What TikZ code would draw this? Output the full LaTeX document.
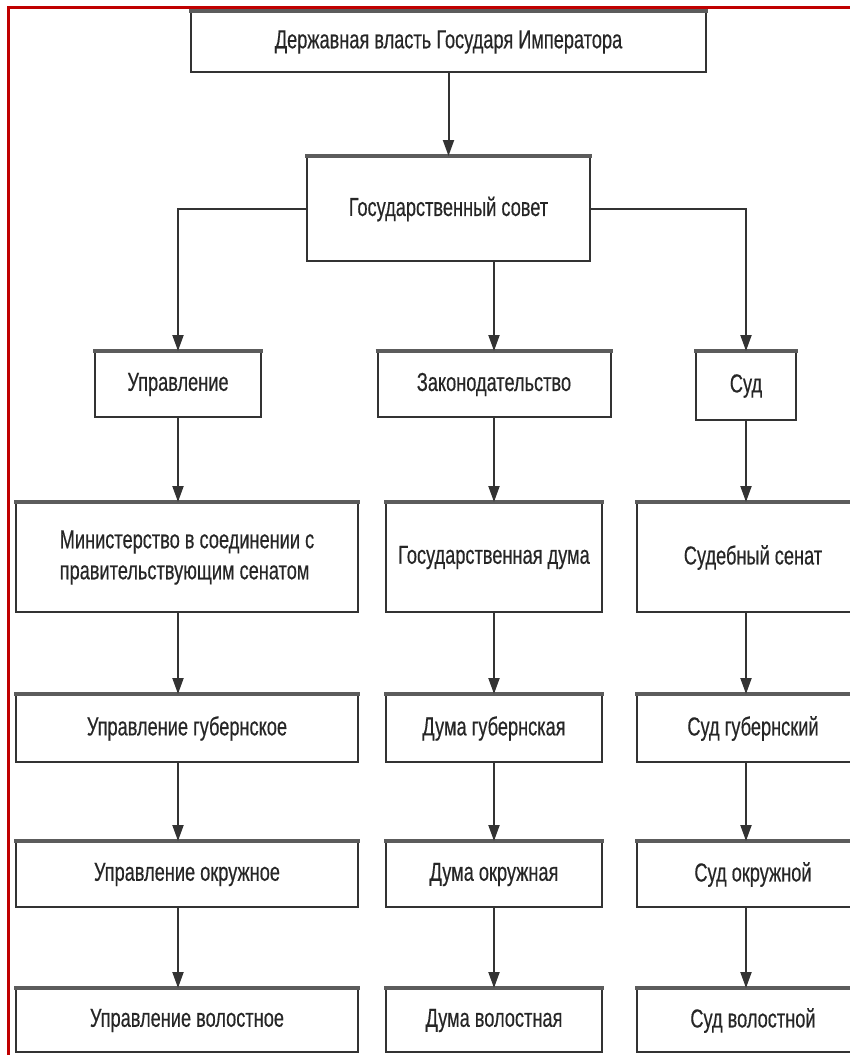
\documentclass[tikz,border=0pt]{standalone}
\usepackage{fontspec}
\setmainfont[FakeStretch=0.7, FakeBold=0.4]{Liberation Sans}
\usetikzlibrary{arrows.meta}
\definecolor{frame}{HTML}{C00000}
\definecolor{ink}{HTML}{333333}
\tikzset{
  box/.style={draw=ink, line width=2pt, fill=white, text=black!85,
    font=\fontsize{26}{31}\selectfont, inner sep=0pt, align=center,
    append after command={(\tikzlastnode.north west) edge[draw=ink!80, line width=4pt, shorten <=-1pt, shorten >=-1pt] (\tikzlastnode.north east)}},
  arr/.style={draw=ink, line width=2pt, -{Triangle[length=16pt,width=11pt]}}
}
\begin{document}
\begin{tikzpicture}[x=1pt, y=-1pt]

\clip (0,0) rectangle (850,1055);
\fill[white] (0,0) rectangle (850,1055);

\draw [frame, line width=3pt] (8,1055) -- (8,7) -- (850,7);

\node[box, minimum width=515, minimum height=60] (emperor) at (448.5,42) {Державная власть Государя Императора};
\node[box, minimum width=283, minimum height=104] (sovet) at (448.5,209) {Государственный совет};

\node[box, minimum width=166, minimum height=65] (upr) at (178,384.5) {Управление};
\node[box, minimum width=233, minimum height=65] (zak) at (494,384.5) {Законодательство};
\node[box, minimum width=100, minimum height=68] (sud) at (746,386) {Суд};

\node[box, minimum width=342, minimum height=109, align=left] (min) at (187,557.5) {Министерство в соединении с\\правительствующим сенатом};
\node[box, minimum width=216, minimum height=109] (duma) at (494,557.5) {Государственная дума};
\node[box, minimum width=232, minimum height=109] (senat) at (753,557.5) {Судебный сенат};

\node[box, minimum width=342, minimum height=67] (uprgub) at (187,728.5) {Управление губернское};
\node[box, minimum width=216, minimum height=67] (dumagub) at (494,728.5) {Дума губернская};
\node[box, minimum width=232, minimum height=67] (sudgub) at (753,728.5) {Суд губернский};

\node[box, minimum width=342, minimum height=65] (uprokr) at (187,874.5) {Управление окружное};
\node[box, minimum width=216, minimum height=65] (dumaokr) at (494,874.5) {Дума окружная};
\node[box, minimum width=232, minimum height=65] (sudokr) at (753,874.5) {Суд окружной};

\node[box, minimum width=342, minimum height=63] (uprvol) at (187,1020.5) {Управление волостное};
\node[box, minimum width=216, minimum height=63] (dumavol) at (494,1020.5) {Дума волостная};
\node[box, minimum width=232, minimum height=63] (sudvol) at (753,1020.5) {Суд волостной};

\draw[arr] (emperor.south) -- (sovet.north);
\draw[arr] (sovet.west) -| (upr.north);
\draw[arr] (sovet.east) -| (sud.north);
\draw[arr] (zak.north |- sovet.south) -- (zak.north);

\draw[arr] (upr.south) -- (upr.south |- min.north);
\draw[arr] (zak.south) -- (zak.south |- duma.north);
\draw[arr] (sud.south) -- (sud.south |- senat.north);

\foreach \a/\b in {min/uprgub, uprgub/uprokr, uprokr/uprvol}
    \draw[arr] (upr.south |- \a.south) -- (upr.south |- \b.north);
\foreach \a/\b in {duma/dumagub, dumagub/dumaokr, dumaokr/dumavol}
    \draw[arr] (zak.south |- \a.south) -- (zak.south |- \b.north);
\foreach \a/\b in {senat/sudgub, sudgub/sudokr, sudokr/sudvol}
    \draw[arr] (sud.south |- \a.south) -- (sud.south |- \b.north);

\end{tikzpicture}
\end{document}
